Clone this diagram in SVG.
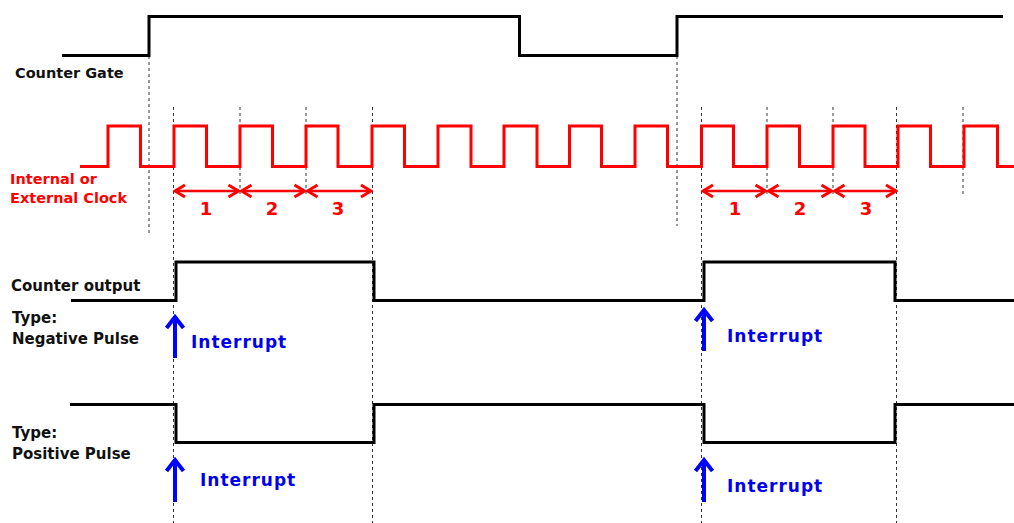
<svg xmlns="http://www.w3.org/2000/svg" width="1014" height="523" viewBox="0 0 1014 523">
<defs>
<style>
.sig{fill:none;stroke:#000;stroke-width:3;stroke-linejoin:miter}
.clk{fill:none;stroke:#ff0000;stroke-width:3;stroke-linejoin:miter}
.dash{fill:none;stroke:#333;stroke-width:1;stroke-dasharray:3,3}
.span{stroke:#ff0000;stroke-width:2.5;marker-start:url(#rh);marker-end:url(#rh)}
.irq{fill:none;stroke:#0000ff;stroke-width:4;stroke-linejoin:miter}
.lbl{font-family:"DejaVu Sans",sans-serif;font-weight:bold;font-size:15px;fill:#111}
.rlbl{font-family:"DejaVu Sans",sans-serif;font-weight:bold;font-size:14.5px;fill:#ff0000}
.num{font-family:"DejaVu Sans",sans-serif;font-weight:bold;font-size:18px;fill:#ff0000;text-anchor:middle}
.int{font-family:"DejaVu Sans",sans-serif;font-weight:bold;font-size:17px;fill:#0000ee;letter-spacing:1px}
</style>
<marker id="rh" viewBox="-12 -8 14 16" refX="0" refY="0" markerWidth="14" markerHeight="16" markerUnits="userSpaceOnUse" orient="auto-start-reverse">
<path d="M-10,-6 L0,0 L-10,6" fill="none" stroke="#ff0000" stroke-width="3"/>
</marker>
</defs>
<rect width="1014" height="523" fill="#fff"/>

<g id="guides">
<line class="dash" x1="149" y1="56" x2="149" y2="233"/>
<line class="dash" x1="677" y1="56" x2="677" y2="226"/>
<line class="dash" x1="173.5" y1="107" x2="173.5" y2="523"/>
<line class="dash" x1="240" y1="107" x2="240" y2="197"/>
<line class="dash" x1="306" y1="107" x2="306" y2="197"/>
<line class="dash" x1="372.5" y1="107" x2="372.5" y2="523"/>
<line class="dash" x1="701.5" y1="107" x2="701.5" y2="523"/>
<line class="dash" x1="767" y1="107" x2="767" y2="197"/>
<line class="dash" x1="833" y1="107" x2="833" y2="197"/>
<line class="dash" x1="896.5" y1="107" x2="896.5" y2="523"/>
<line class="dash" x1="963" y1="107" x2="963" y2="197"/>
</g>

<g id="counter-gate">
<path class="sig" d="M62,55.5 H149 V16.5 H519.5 V55.5 H677 V16.5 H1003"/>
<text class="lbl" x="15" y="78" style="font-size:14.5px">Counter Gate</text>
</g>

<g id="clock">
<path class="clk" d="M80,166.5 H108 V126 H140.5 V166.5 H174 V126 H206.5 V166.5 H240 V126 H272.5 V166.5 H306 V126 H338 V166.5 H372 V126 H404.5 V166.5 H438 V126 H471 V166.5 H504 V126 H537 V166.5 H569.5 V126 H601.5 V166.5 H635 V126 H667.5 V166.5 H701.5 V126 H733.5 V166.5 H767 V126 H799.5 V166.5 H833 V126 H865 V166.5 H898 V126 H930.5 V166.5 H964 V126 H997.5 V166.5 H1014"/>
<text class="rlbl" x="10" y="184">Internal or</text>
<text class="rlbl" x="10" y="203">External Clock</text>
</g>

<g id="count-spans">
<line class="span" x1="175" y1="191" x2="238.5" y2="191"/>
<line class="span" x1="241.5" y1="191" x2="304.5" y2="191"/>
<line class="span" x1="307.5" y1="191" x2="371" y2="191"/>
<text class="num" x="206" y="215">1</text>
<text class="num" x="272" y="215">2</text>
<text class="num" x="338" y="215">3</text>
<line class="span" x1="703" y1="191" x2="765.5" y2="191"/>
<line class="span" x1="768.5" y1="191" x2="831.5" y2="191"/>
<line class="span" x1="834.5" y1="191" x2="896" y2="191"/>
<text class="num" x="735" y="215">1</text>
<text class="num" x="800" y="215">2</text>
<text class="num" x="866" y="215">3</text>
</g>

<g id="negative-pulse">
<path class="sig" d="M71,300.5 H176 V262 H374 V300.5 H704 V262 H895 V300.5 H1014"/>
<text class="lbl" x="11" y="291">Counter output</text>
<text class="lbl" x="12" y="323">Type:</text>
<text class="lbl" x="12" y="344">Negative Pulse</text>
</g>

<g id="positive-pulse">
<path class="sig" d="M70,404.5 H176 V442.5 H374 V404.5 H704 V442.5 H895 V404.5 H1014"/>
<text class="lbl" x="12" y="438">Type:</text>
<text class="lbl" x="12" y="459">Positive Pulse</text>
</g>

<g id="interrupts">
<path class="irq" d="M175,358 V317 M166.5,328 L175,317 L183.5,328"/>
<text class="int" x="191" y="348">Interrupt</text>
<path class="irq" d="M175,502 V460 M166.5,471 L175,460 L183.5,471"/>
<text class="int" x="200" y="486">Interrupt</text>
<path class="irq" d="M704,351 V310 M695.5,321 L704,310 L712.5,321"/>
<text class="int" x="727" y="342">Interrupt</text>
<path class="irq" d="M704,502 V460 M695.5,471 L704,460 L712.5,471"/>
<text class="int" x="727" y="492">Interrupt</text>
</g>
</svg>
